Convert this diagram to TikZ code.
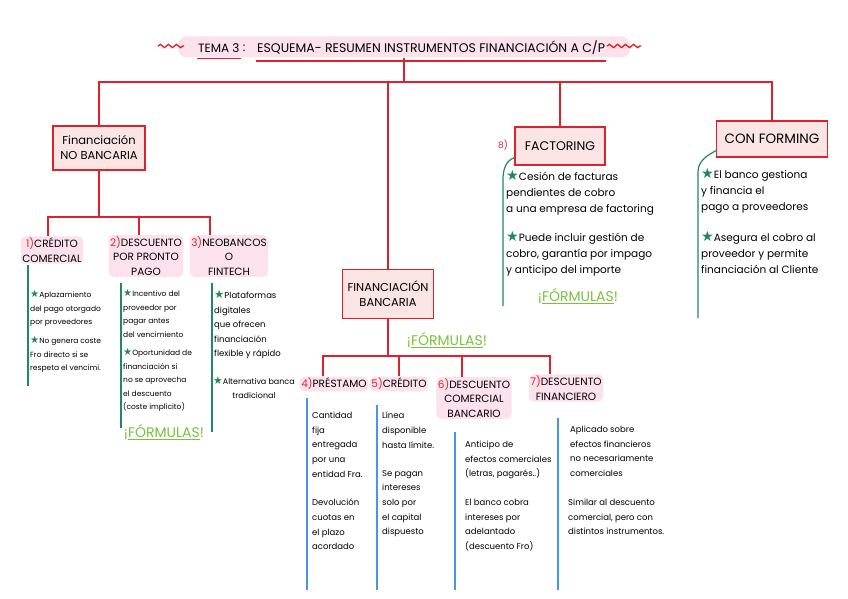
\documentclass[tikz,border=0pt]{standalone}
\usepackage{fontspec}
\setmainfont{Poppins}
\newfontfamily\simbolos{DejaVu Sans}
\usepackage{xcolor}
\definecolor{rojoLinea}{RGB}{220,35,45}
\definecolor{rosaCaja}{RGB}{250,228,228}
\definecolor{rosaMarca}{RGB}{251,226,236}
\definecolor{verdeEst}{RGB}{35,135,95}
\definecolor{verdeForm}{RGB}{120,195,60}
\definecolor{azulLinea}{RGB}{70,150,235}
\usepackage{tikz}
\usetikzlibrary{positioning, calc, decorations.pathmorphing}
\newcommand{\est}{\scalebox{1.35}{\simbolos\textcolor{verdeEst}{★}}}
\newcommand{\formulas}{¡\underline{FÓRMULAS}!}
\newcommand{\num}[1]{\textcolor{rojoLinea}{#1}}

\begin{document}
\begin{tikzpicture}[x=1pt, y=-1pt,
  linea/.style={draw=rojoLinea, line width=1.4pt},
  caja/.style={draw=rojoLinea, fill=rosaCaja, line width=1.2pt, align=center,
    inner sep=0pt, font=\fontsize{11.5}{15}\selectfont},
  marca/.style={fill=rosaMarca, rounded corners=5pt, align=center, inner sep=1.5pt,
    font=\fontsize{10.5}{14.5}\selectfont},
  nota/.style={anchor=north west, align=left, inner sep=0pt,
    font=\fontsize{8.5}{14.6}\selectfont},
  notaP/.style={nota, font=\fontsize{7.5}{13.5}\selectfont},
  notaG/.style={nota, font=\fontsize{10.5}{15.8}\selectfont},
  formu/.style={text=verdeForm, font=\fontsize{14}{16}\selectfont, inner sep=1pt},
  lverde/.style={draw=verdeEst, line width=1.2pt},
  lazul/.style={draw=azulLinea, line width=1.4pt}]
  \fill[white] (0,0) rectangle (848,599);
  \useasboundingbox (0,0) rectangle (848,599);

  % Titulo
  \node[fill=rosaMarca, rounded corners=9pt, minimum width=452pt, minimum height=21pt,
    inner sep=0pt] (tit) at (404,47) {};
  \node[font=\fontsize{12}{14}\selectfont, inner sep=1pt, anchor=west] (tema) at (197,48) {TEMA 3};
  \node[font=\fontsize{12}{14}\selectfont, inner sep=1pt, right=1pt of tema] (dosp) {:};
  \node[font=\fontsize{12.5}{14}\selectfont, inner sep=1pt, anchor=west] (esq) at (256,48)
    {ESQUEMA- RESUMEN INSTRUMENTOS FINANCIACIÓN A C/P};
  \draw[linea] ([yshift=-5pt]tema.south west) -- ([yshift=-5pt]tema.south east);
  \draw[linea] ([yshift=-5pt]esq.south west) -- ([yshift=-5pt]esq.south east);
  \draw[linea, decorate, decoration={snake, amplitude=1.6pt, segment length=8pt}]
    (158,46) -- (184,46);
  \draw[linea, decorate, decoration={snake, amplitude=1.6pt, segment length=8pt}]
    (607,46) -- (641,46);

  % Cajas principales
  \node[caja, minimum width=92pt, minimum height=44pt] (nb) at (99,148)
    {Financiación\\NO BANCARIA};
  \node[caja, minimum width=91pt, minimum height=49pt] (banc) at (388,294)
    {FINANCIACIÓN\\BANCARIA};
  \node[caja, minimum width=90pt, minimum height=38pt, font=\fontsize{12.5}{15}\selectfont]
    (fact) at (560,146) {FACTORING};
  \node[caja, minimum width=111pt, minimum height=36pt, font=\fontsize{13.5}{15}\selectfont]
    (conf) at (772,139) {CON FORMING};
  \node[text=rojoLinea, font=\fontsize{9}{10}\selectfont, left=3pt of fact.west, yshift=1pt]
    (n8) {8)};

  % Ramas superiores
  \coordinate (bus1) at (400,82);
  \draw[linea] (tit.south) -- (tit.south |- bus1);
  \draw[linea] (nb.north) |- (bus1) -| (conf.north);
  \draw[linea] (banc.north) -- (banc.north |- bus1);
  \draw[linea] (fact.north) -- (fact.north |- bus1);

  % Financiacion no bancaria
  \node[marca] (l1) at (52,250) {\num{1)}CRÉDITO\\COMERCIAL};
  \node[marca] (l2) at (146,256) {\num{2)}DESCUENTO\\POR PRONTO\\PAGO};
  \node[marca] (l3) at (229,256) {\num{3)}NEOBANCOS\\O\\FINTECH};
  \coordinate (bus2) at (99,217);
  \draw[linea] (nb.south) -- (bus2);
  \draw[linea] ([xshift=-4pt]l1.north) |- (bus2) -| ([xshift=-19pt]l3.north);
  \draw[linea] ([xshift=-7pt]l2.north) -- ([xshift=-7pt]l2.north |- bus2);

  \foreach \x/\ya/\yb in {28/265/386, 121/283/428, 212/283/432}{
    \draw[lverde] (\x,\ya) -- (\x,\yb);
  }
  \node[notaP] (t1a) at (30,290) {\est Aplazamiento\\del pago otorgado\\por proveedores};
  \node[notaP] (t1b) at (30,336) {\est No genera coste\\Fro directo si se\\respeta el vencimi.};
  \node[notaP] (t2a) at (123,289) {\est Incentivo del\\proveedor por\\pagar antes\\del vencimiento};
  \node[notaP] (t2b) at (123,348) {\est Oportunidad de\\financiación si\\no se aprovecha\\el descuento\\(coste implícito)};
  \node[formu] (f2) at (164,432) {\formulas};
  \node[nota] (t3a) at (214,290) {\est Plataformas\\digitales\\que ofrecen\\financiación\\flexible y rápido};
  \node[nota, align=center, font=\fontsize{8}{14.6}\selectfont] (t3b) at (213,376)
    {\est Alternativa banca\\tradicional};

  % Financiacion bancaria
  \node[formu] (f1) at (447,340) {\formulas};
  \node[marca] (l4) at (334,384) {\num{4)}PRÉSTAMO};
  \node[marca] (l5) at (399,384) {\num{5)}CRÉDITO};
  \node[marca] (l6) at (474,398) {\num{6)}DESCUENTO\\COMERCIAL\\BANCARIO};
  \node[marca] (l7) at (566,388) {\num{7)}DESCUENTO\\FINANCIERO};
  \coordinate (bus3) at (388,356);
  \draw[linea] ([xshift=-11pt]l4.north) |- (bus3) -| ([xshift=-16pt]l7.north);
  \draw[linea] (banc.south) -- (bus3);
  \draw[linea] (l5.north) -- (l5.north |- bus3);
  \draw[linea] ([xshift=-12pt]l6.north) -- ([xshift=-12pt]l6.north |- bus3);

  \foreach \x/\ya in {307/398, 377/405, 455/432, 558/418}{
    \draw[lazul] (\x,\ya) -- (\x,590);
  }
  \node[nota] (t4a) at (312,412) {Cantidad\\fija\\entregada\\por una\\entidad Fra.};
  \node[nota] (t4b) at (312,499) {Devolución\\cuotas en\\el plazo\\acordado};
  \node[nota] (t5a) at (382,412) {Línea\\disponible\\hasta límite.};
  \node[nota] (t5b) at (382,470) {Se pagan\\intereses\\solo por\\el capital\\dispuesto};
  \node[nota] (t6a) at (465,441) {Anticipo de\\efectos comerciales\\(letras, pagarés..)};
  \node[nota] (t6b) at (465,499) {El banco cobra\\intereses por\\adelantado\\(descuento Fro)};
  \node[nota] (t7a) at (570,426) {Aplicado sobre\\efectos financieros\\no necesariamente\\comerciales};
  \node[nota] (t7b) at (568,499) {Similar al descuento\\comercial, pero con\\distintos instrumentos.};

  % Factoring y confirming
  \draw[lverde] ([yshift=8pt]fact.south west) to[out=200, in=90] (503,180) -- (503,306);
  \draw[lverde] ([yshift=7pt]conf.south west) to[out=210, in=90] (698,172) -- (698,318);
  \node[notaG] (t8a) at (506,170) {\est Cesión de facturas\\pendientes de cobro\\a una empresa de factoring};
  \node[notaG] (t8b) at (506,231) {\est Puede incluir gestión de\\cobro, garantía por impago\\y anticipo del importe};
  \node[formu] (f8) at (578,296) {\formulas};
  \node[notaG] (t9a) at (701,168) {\est El banco gestiona\\y financia el\\pago a proveedores};
  \node[notaG] (t9b) at (701,231) {\est Asegura el cobro al\\proveedor y permite\\financiación al Cliente};
\end{tikzpicture}
\end{document}
